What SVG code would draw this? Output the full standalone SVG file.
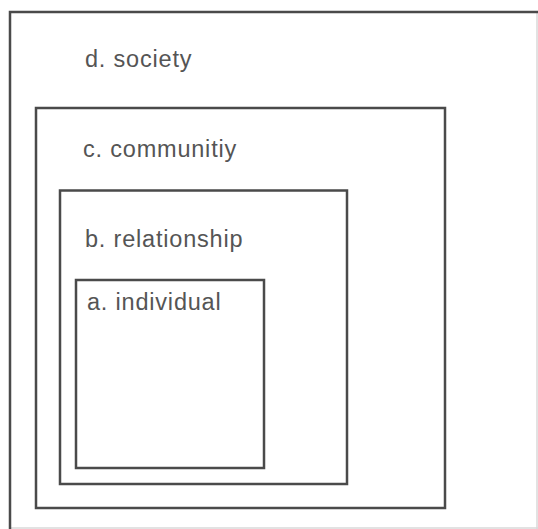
<svg xmlns="http://www.w3.org/2000/svg" width="538" height="529" viewBox="0 0 538 529">
<style>
.box{fill:none;stroke:#4a4a4a;stroke-width:2.5}
.lbl{font-family:"Liberation Sans",Arial,sans-serif;font-size:23.5px;letter-spacing:0.8px;fill:#555}
</style>
<rect width="538" height="529" fill="#ffffff"/>
<line x1="537" y1="12" x2="537" y2="529" stroke="#d8d8d8" stroke-width="1.5"/>
<line x1="10" y1="528" x2="538" y2="528" stroke="#d8d8d8" stroke-width="1.5"/>
<g id="society">
<path class="box" d="M10,529 V12 H540"/>
<text class="lbl" x="85" y="67">d. society</text>
</g>
<g id="community">
<rect class="box" x="36" y="108" width="409" height="400"/>
<text class="lbl" x="83" y="157">c. communitiy</text>
</g>
<g id="relationship">
<rect class="box" x="60" y="190.5" width="287" height="293.5"/>
<text class="lbl" x="85" y="247">b. relationship</text>
</g>
<g id="individual">
<rect class="box" x="76" y="280" width="188" height="188"/>
<text class="lbl" x="87" y="310">a. individual</text>
</g>
<g id="connectors"></g>
</svg>
